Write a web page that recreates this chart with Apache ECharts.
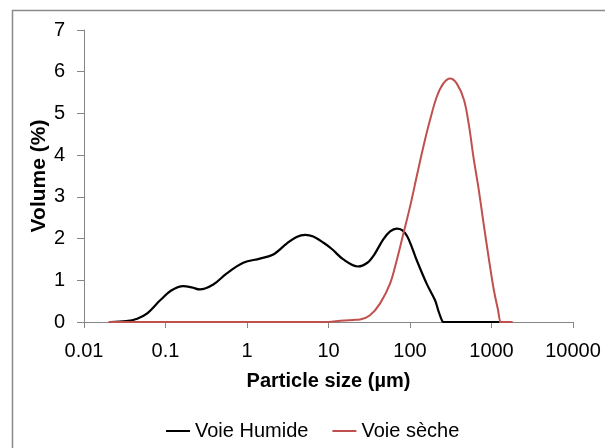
<!DOCTYPE html>
<html>
<head>
<meta charset="utf-8">
<script src="https://cdn.jsdelivr.net/npm/echarts@6/dist/echarts.min.js"></script>
<style>
  html, body { margin: 0; padding: 0; background: #fff; }
  #chart { width: 605px; height: 448px; }
</style>
</head>
<body>
<div id="chart"></div>
<script>
// particle size (µm) and volume (%)
const wetSize = [0.021, 0.033, 0.045, 0.059, 0.086, 0.119, 0.165, 0.21, 0.264, 0.386, 0.56, 0.9, 1.44, 2.1, 3.07, 4.06, 5.2, 6.5, 8.7, 11, 15.2, 23, 30, 36, 47, 57, 68.8, 80, 92, 106, 121, 160, 203, 222, 245, 257, 400, 700, 1250]
const wetVol = [0, 0.02, 0.08, 0.2, 0.52, 0.76, 0.86, 0.83, 0.78, 0.9, 1.16, 1.42, 1.52, 1.62, 1.88, 2.04, 2.09, 2.05, 1.9, 1.75, 1.5, 1.33, 1.42, 1.6, 1.98, 2.17, 2.24, 2.2, 2.06, 1.78, 1.48, 0.92, 0.52, 0.28, 0.05, 0, 0, 0, 0]

const drySize = [0.02, 1, 10, 14, 20, 24.4, 32.3, 42.8, 56.9, 68.8, 83, 100, 120.6, 145.8, 176, 213, 257, 310, 374, 460, 530, 600, 700, 800, 930, 1070, 1200, 1310, 1500, 1820]
const dryVol = [0, 0, 0, 0.03, 0.05, 0.06, 0.16, 0.44, 0.92, 1.48, 2.12, 2.76, 3.48, 4.2, 4.84, 5.4, 5.72, 5.84, 5.72, 5.32, 4.7, 3.96, 3.15, 2.36, 1.5, 0.76, 0.3, 0, 0, 0]

const xTicks = [0.01, 0.1, 1, 10, 100, 1000, 10000]

const font = 'Liberation Sans, Arial, sans-serif'
const axisGray = '#868686'

const zip = (xs, ys) => xs.map((x, i) => [x, ys[i]])

const chart = echarts.init(document.getElementById('chart'))
chart.setOption({
  animation: false,
  textStyle: { fontFamily: font },
  graphic: [
    {
      type: 'rect',
      shape: { x: 12.5, y: 10.5, width: 620, height: 460 },
      style: { fill: 'none', stroke: '#8a8a8a', lineWidth: 1.5 },
      silent: true,
    },
  ],
  grid: { left: 84, right: 32, top: 30, bottom: 126 },
  legend: {
    left: 161,
    top: 416,
    icon: 'rect',
    itemWidth: 24,
    itemHeight: 2,
    itemGap: 24,
    textStyle: { fontSize: 20, color: '#000', fontFamily: font },
    data: ['Voie Humide', 'Voie sèche'],
  },
  xAxis: {
    type: 'log',
    logBase: 10,
    min: 0.01,
    max: 10000,
    name: 'Particle size (µm)',
    nameLocation: 'middle',
    nameGap: 49,
    nameMoveOverlap: false,
    nameTextStyle: { fontSize: 20, fontWeight: 'bold', color: '#000', fontFamily: font },
    axisLine: { show: true, lineStyle: { color: axisGray } },
    axisTick: { show: true, length: 6, lineStyle: { color: axisGray } },
    minorTick: { show: false },
    splitLine: { show: false },
    axisLabel: {
      fontSize: 20,
      color: '#000',
      margin: 19,
      formatter: (v) => {
        const t = xTicks.find((k) => Math.abs(Math.log10(k) - Math.log10(v)) < 1e-6)
        return t === undefined ? '' : String(t)
      },
    },
  },
  yAxis: {
    type: 'value',
    min: 0,
    max: 7,
    interval: 1,
    name: 'Volume (%)',
    nameLocation: 'middle',
    nameGap: 34,
    nameMoveOverlap: false,
    nameTextStyle: { fontSize: 21, fontWeight: 'bold', color: '#000', fontFamily: font },
    axisLine: { show: true, lineStyle: { color: axisGray } },
    axisTick: { show: true, length: 7, lineStyle: { color: axisGray } },
    splitLine: { show: false },
    axisLabel: { fontSize: 20, color: '#000', margin: 19 },
  },
  series: [
    {
      name: 'Voie Humide',
      type: 'line',
      data: zip(wetSize, wetVol),
      smooth: 0.35,
      symbol: 'none',
      color: '#000000',
      lineStyle: { width: 2.2, color: '#000000' },
      emphasis: { disabled: true },
    },
    {
      name: 'Voie sèche',
      type: 'line',
      data: zip(drySize, dryVol),
      smooth: 0.35,
      symbol: 'none',
      color: '#c0504d',
      lineStyle: { width: 2, color: '#c0504d' },
      emphasis: { disabled: true },
    },
  ],
})
</script>
</body>
</html>
